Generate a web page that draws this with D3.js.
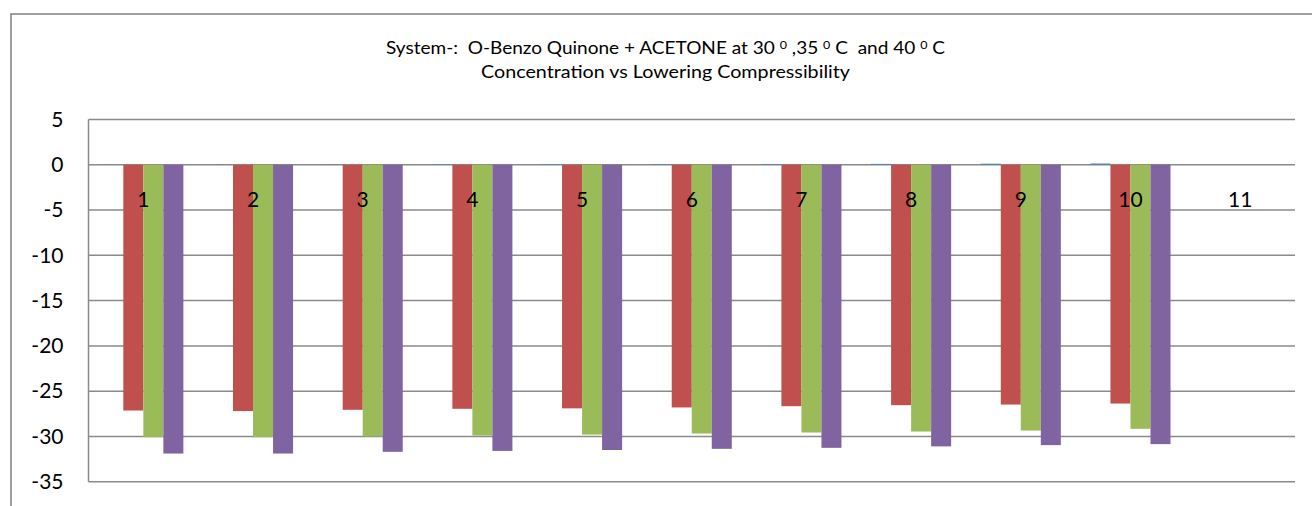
<!DOCTYPE html>
<html>
<head>
<meta charset="utf-8">
<script src="https://cdn.jsdelivr.net/npm/d3@7"></script>
<style>
  html, body { margin: 0; padding: 0; background: #fff; }
  svg { display: block; }
  text { font-family: Lato, "Open Sans", "Liberation Sans", sans-serif; fill: #000; }
</style>
</head>
<body>
<svg id="chart" width="1312" height="506"></svg>
<script>
// ---- data ----
const categories = ["1","2","3","4","5","6","7","8","9","10","11"];
const seriesNames = ["Concentration","30 °C","35 °C","40 °C"];
const seriesColors = ["#4F81BD","#C0504D","#9BBB59","#8064A2"];
const concentration = [0.01,0.02,0.03,0.04,0.05,0.06,0.08,0.10,0.12,0.14,null];
const temp30 = [-27.14,-27.20,-27.06,-26.95,-26.90,-26.80,-26.66,-26.55,-26.48,-26.37,null];
const temp35 = [-30.08,-30.08,-30.00,-29.90,-29.80,-29.68,-29.57,-29.46,-29.35,-29.16,null];
const temp40 = [-31.89,-31.89,-31.70,-31.60,-31.50,-31.37,-31.26,-31.10,-30.96,-30.85,null];
const yTicks = [5,0,-5,-10,-15,-20,-25,-30,-35];
const titleLine2 = "Concentration vs Lowering Compressibility";

const allSeries = [concentration, temp30, temp35, temp40];

// ---- layout ----
const svg = d3.select("#chart");
const plot = {left: 88.5, right: 1295, top: 119.5, bottom: 481.7};

// chart border
svg.append("rect")
  .attr("x", 11).attr("y", 14)
  .attr("width", 1340).attr("height", 540)
  .attr("fill", "#fff").attr("stroke", "#878787").attr("stroke-width", 1.6);

const y = d3.scaleLinear().domain([-35, 5]).range([plot.bottom, plot.top]);
const x0 = d3.scaleBand().domain(categories).range([plot.left, plot.right])
  .paddingInner(0.27).paddingOuter(0.135);
const x1 = d3.scaleBand().domain(d3.range(allSeries.length)).range([0, x0.bandwidth()]).padding(0);

// gridlines
svg.append("g").selectAll("line").data(yTicks).join("line")
  .attr("x1", plot.left).attr("x2", plot.right)
  .attr("y1", d => y(d)).attr("y2", d => y(d))
  .attr("stroke", "#8a8a8a").attr("stroke-width", 1.5);

// y axis line
svg.append("line")
  .attr("x1", plot.left).attr("x2", plot.left)
  .attr("y1", y(5)).attr("y2", y(-35))
  .attr("stroke", "#8a8a8a").attr("stroke-width", 1.5);

// bars
const rows = [];
categories.forEach((c, i) => {
  allSeries.forEach((s, k) => {
    if (s[i] !== null && s[i] !== undefined) rows.push({cat: c, k, v: s[i]});
  });
});
svg.append("g").selectAll("rect").data(rows).join("rect")
  .attr("x", d => x0(d.cat) + x1(d.k))
  .attr("width", x1.bandwidth())
  .attr("y", d => Math.min(y(0), y(d.v)))
  .attr("height", d => Math.abs(y(d.v) - y(0)))
  .attr("fill", d => seriesColors[d.k]);

// y axis labels
const yAxis = d3.axisLeft(y).tickValues(yTicks).tickSize(0).tickPadding(25).tickFormat(d => String(d));
const gy = svg.append("g").attr("transform", `translate(${plot.left},0)`).call(yAxis);
gy.select(".domain").remove();
gy.selectAll("text").attr("font-size", 21).attr("font-family", "Lato, sans-serif").attr("fill", "#000");

// category labels (axis at zero)
const xAxis = d3.axisBottom(x0).tickSize(0).tickPadding(27);
const gx = svg.append("g").attr("transform", `translate(0,${y(0)})`).call(xAxis);
gx.select(".domain").remove();
gx.selectAll("text").attr("font-size", 21).attr("font-family", "Lato, sans-serif").attr("fill", "#000");

// title
const cx = 665.5;
const t1 = svg.append("text").attr("x", cx).attr("y", 54).attr("text-anchor", "middle")
  .attr("font-size", 17.5).style("white-space", "pre")
  .attr("textLength", 559).attr("lengthAdjust", "spacingAndGlyphs");
const parts = [
  ["System-:  O-Benzo Quinone + ACETONE at 30 ", false],
  ["0", true],
  [" ,35 ", false],
  ["0", true],
  [" C  and 40 ", false],
  ["0", true],
  [" C", false]
];
parts.forEach(([txt, sup]) => {
  const ts = t1.append("tspan").text(txt);
  if (sup) ts.attr("font-size", 11.5).attr("baseline-shift", "45%");
});
svg.append("text").attr("x", cx).attr("y", 78).attr("text-anchor", "middle")
  .attr("font-size", 17.5).attr("textLength", 369).attr("lengthAdjust", "spacingAndGlyphs")
  .text(titleLine2);
</script>
</body>
</html>
